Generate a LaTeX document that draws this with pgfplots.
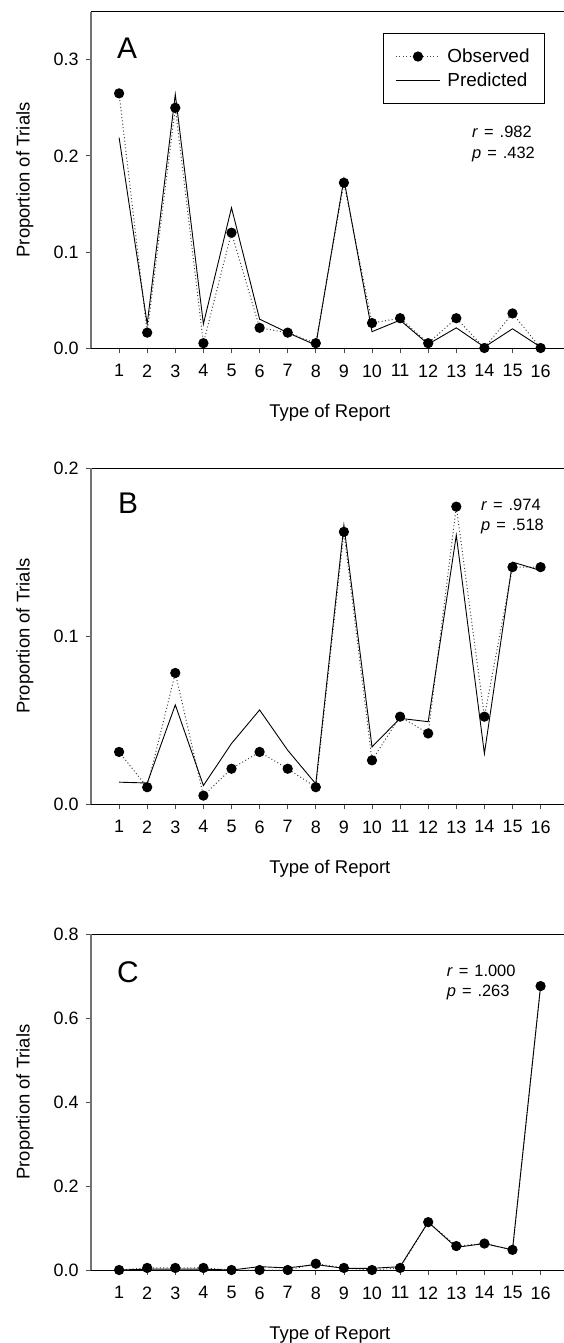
\documentclass[border=0pt]{standalone}
\usepackage{fontspec}
\setmainfont{Liberation Sans}
\usepackage{pgfplots}
\usepackage{pgfplotstable}
\pgfplotsset{compat=1.18}

% Proportion of trials per report type: observed and model-predicted
\pgfplotstableread{
type obs   pred
1    0.265 0.219
2    0.016 0.025
3    0.250 0.264
4    0.005 0.025
5    0.120 0.146
6    0.021 0.030
7    0.016 0.016
8    0.005 0.003
9    0.172 0.176
10   0.026 0.017
11   0.031 0.029
12   0.005 0.004
13   0.031 0.021
14   0.000 0.001
15   0.036 0.020
16   0.000 0.001
}\panelA

\pgfplotstableread{
type obs   pred
1    0.031 0.013
2    0.010 0.0125
3    0.078 0.059
4    0.005 0.011
5    0.021 0.036
6    0.031 0.056
7    0.021 0.032
8    0.010 0.012
9    0.162 0.166
10   0.026 0.034
11   0.052 0.051
12   0.042 0.049
13   0.177 0.160
14   0.052 0.030
15   0.141 0.144
16   0.141 0.139
}\panelB

\pgfplotstableread{
type obs   pred
1    0.000 0.000
2    0.005 0.002
3    0.005 0.002
4    0.005 0.002
5    0.000 0.000
6    0.000 0.008
7    0.000 0.005
8    0.015 0.013
9    0.005 0.004
10   0.000 0.004
11   0.005 0.008
12   0.114 0.114
13   0.057 0.054
14   0.063 0.063
15   0.048 0.048
16   0.676 0.676
}\panelC

\tikzset{
  letter/.style={anchor=base west, inner sep=0pt, font=\fontsize{30}{30}\selectfont},
  stat/.style={anchor=base west, inner sep=0pt, font=\fontsize{16.5}{16.5}\selectfont},
}
% spacing around the equals sign in the statistics
\newcommand{\eqs}{\hspace{0.36em}=\hspace{0.36em}}

\pgfplotsset{
  reportpanel/.style={
    scale only axis, width=477.7bp, height=336.3bp,
    xmin=0, xmax=17, ymin=0,
    xtick={1,...,16},
    separate axis lines,
    x axis line style={black, line width=0.9bp},
    y axis line style={black!55, line width=1.1bp},
    xtick pos=bottom, ytick pos=left,
    tick align=outside,
    major tick length=5bp,
    major tick style={black!70, line width=0.8bp},
    minor tick num=0,
    /pgf/number format/assume math mode=true,
    tick label style={font=\fontsize{18}{18}\selectfont},
    yticklabel style={/pgf/number format/fixed, /pgf/number format/fixed zerofill,
      /pgf/number format/precision=1, xshift=-4bp},
    xticklabel style={yshift=-8bp},
    xlabel={Type of Report},
    ylabel={Proportion of Trials},
    label style={font=\fontsize{18.5}{18.5}\selectfont},
    x label style={at={(axis description cs:0.5,0)}, anchor=base, yshift=-69bp},
    y label style={at={(axis description cs:-0.1382,0.5)}, anchor=center},
    clip=false,
  },
  obs/.style={black!75, line width=1.0bp, dash pattern=on 1bp off 2.4bp,
    mark=*, mark size=4.6bp, mark options={solid, fill=black, draw=black}},
  pred/.style={black, line width=0.9bp, no marks},
}

\begin{document}
\begin{tikzpicture}
% Panel A
\begin{axis}[reportpanel, at={(91bp,-348bp)}, anchor=south west,
  ymax=0.35, ytick={0,0.1,0.2,0.3},
  legend style={at={(rel axis cs:0.6113,0.9367)}, anchor=north west,
    draw=black, line width=0.9bp, font=\fontsize{19}{19}\selectfont,
    inner xsep=12bp, inner ysep=12.5bp, row sep=3bp, column sep=4bp,
    nodes={inner sep=3bp}, cells={anchor=west}},
  legend image code/.code={\draw[mark repeat=2,mark phase=2]
    plot coordinates {(0bp,0bp) (22bp,0bp) (44bp,0bp)};},
]
\addplot[obs] table[x=type, y=obs] {\panelA};
\addlegendentry{Observed}
\addplot[pred] table[x=type, y=pred] {\panelA};
\addlegendentry{Predicted}
\node[letter] at (axis cs:0.925,0.3015) {A};
\node[stat] at (axis cs:13.56,0.2186) {\textit{r}\eqs.982};
\node[stat] at (axis cs:13.56,0.1977) {\textit{p}\eqs.432};
\end{axis}

% Panel B
\begin{axis}[reportpanel, at={(91bp,-804bp)}, anchor=south west,
  height=336bp, ymax=0.2, ytick={0,0.1,0.2}]
\addplot[obs] table[x=type, y=obs] {\panelB};
\addplot[pred] table[x=type, y=pred] {\panelB};
\node[letter] at (axis cs:0.96,0.1732) {B};
\node[stat] at (axis cs:13.88,0.175) {\textit{r}\eqs.974};
\node[stat] at (axis cs:13.88,0.1627) {\textit{p}\eqs.518};
\end{axis}

% Panel C
\begin{axis}[reportpanel, at={(91bp,-1270bp)}, anchor=south west,
  height=336bp, ymax=0.8, ytick={0,0.2,0.4,0.6,0.8}]
\addplot[obs] table[x=type, y=obs] {\panelC};
\addplot[pred] table[x=type, y=pred] {\panelC};
\node[letter] at (axis cs:0.925,0.6857) {C};
\node[stat] at (axis cs:12.66,0.70) {\textit{r}\eqs1.000};
\node[stat] at (axis cs:12.66,0.6507) {\textit{p}\eqs.263};
\end{axis}

\pgfresetboundingbox
\useasboundingbox (0,0) rectangle (564bp,-1343bp);
\end{tikzpicture}
\end{document}
